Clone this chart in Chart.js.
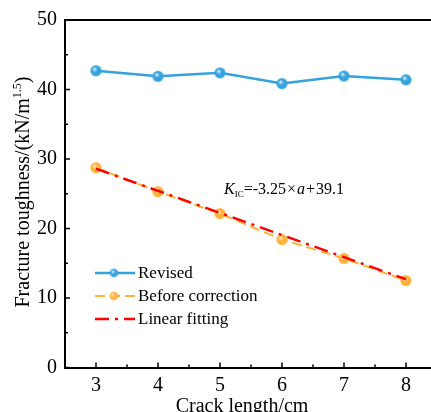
<!DOCTYPE html>
<html>
<head>
<meta charset="utf-8">
<script src="https://cdn.jsdelivr.net/npm/chart.js@4.4.1/dist/chart.umd.min.js"></script>
<style>
  html, body { margin: 0; padding: 0; background: #fff; overflow: hidden; }
  #wrap { position: absolute; left: 0; top: 0; width: 445px; height: 430px; }
</style>
</head>
<body>
<div id="wrap"><canvas id="chart" width="445" height="430"></canvas></div>
<script>
const crackLength = [3, 4, 5, 6, 7, 8];
const revised = [42.7, 41.9, 42.4, 40.85, 41.95, 41.4];
const beforeCorrection = [28.75, 25.3, 22.15, 18.4, 15.7, 12.5];
const fitX = [3, 8];
const fitY = [28.6, 12.7];
const xTicks = [3, 4, 5, 6, 7, 8];
const yTicks = [0, 10, 20, 30, 40, 50];
const seriesNames = ["Revised", "Before correction", "Linear fitting"];

const SERIF = "'Liberation Serif', 'DejaVu Serif', serif";
const BLUE = "#35a2de";
const ORANGE = "#ffb23a";
const RED = "#ff0000";

function sphere(color, light, r) {
  const c = document.createElement("canvas");
  c.width = c.height = Math.ceil(r * 2 + 2);
  const g = c.getContext("2d");
  const cx = c.width / 2;
  const grad = g.createRadialGradient(cx - r * 0.3, cx - r * 0.35, 0.3, cx, cx, r);
  grad.addColorStop(0, light);
  grad.addColorStop(0.45, color);
  grad.addColorStop(1, color);
  g.fillStyle = grad;
  g.beginPath();
  g.arc(cx, cx, r, 0, Math.PI * 2);
  g.fill();
  return c;
}

const blueDot = sphere(BLUE, "#e8f7ff", 5.5);
const orangeDot = sphere(ORANGE, "#fff3d0", 5.5);
const blueDotSmall = sphere(BLUE, "#e8f7ff", 4.2);
const orangeDotSmall = sphere(ORANGE, "#fff3d0", 4.2);
const legendDots = [blueDotSmall, orangeDotSmall, null];

const pts = (xs, ys) => xs.map((x, i) => ({ x, y: ys[i] }));

const decor = {
  id: "decor",
  afterDraw(chart) {
    const { ctx, chartArea: a, scales } = chart;
    const xs = scales.x, ys = scales.y;
    ctx.save();
    ctx.strokeStyle = "#000";
    ctx.lineWidth = 2;
    // top border
    ctx.beginPath();
    ctx.moveTo(a.left, a.top);
    ctx.lineTo(a.right + 10, a.top);
    ctx.stroke();
    // inward ticks
    ctx.lineWidth = 1.5;
    for (let v = 0; v <= 50; v += 5) {
      const y = ys.getPixelForValue(v);
      const len = v % 10 === 0 ? 5 : 3;
      ctx.beginPath();
      ctx.moveTo(a.left, y);
      ctx.lineTo(a.left + len, y);
      ctx.stroke();
    }
    for (let v = 3; v <= 8; v += 0.5) {
      const x = xs.getPixelForValue(v);
      const len = Number.isInteger(v) ? 5 : 3;
      ctx.beginPath();
      ctx.moveTo(x, a.bottom);
      ctx.lineTo(x, a.bottom - len);
      ctx.stroke();
    }

    // axis titles
    ctx.fillStyle = "#000";
    ctx.textBaseline = "alphabetic";
    ctx.font = "20px " + SERIF;
    ctx.textAlign = "center";
    ctx.fillText("Crack length/cm", 242, 412);

    ctx.save();
    ctx.translate(29, 192);
    ctx.rotate(-Math.PI / 2);
    const t1 = "Fracture toughness/(kN/m";
    const t2 = "1.5";
    const t3 = ")";
    ctx.font = "20px " + SERIF;
    const w1 = ctx.measureText(t1).width;
    const w3 = ctx.measureText(t3).width;
    ctx.font = "12px " + SERIF;
    const w2 = ctx.measureText(t2).width;
    const x0 = -(w1 + w2 + w3) / 2;
    ctx.textAlign = "left";
    ctx.font = "20px " + SERIF;
    ctx.fillText(t1, x0, 0);
    ctx.font = "12px " + SERIF;
    ctx.fillText(t2, x0 + w1, -8);
    ctx.font = "20px " + SERIF;
    ctx.fillText(t3, x0 + w1 + w2, 0);
    ctx.restore();

    // fit equation
    ctx.textAlign = "left";
    let x = 224;
    const base = 194;
    const part = (txt, font, dy, gap) => {
      ctx.font = font;
      ctx.fillText(txt, x, base + (dy || 0));
      x += ctx.measureText(txt).width + (gap || 0);
    };
    part("K", "italic 16px " + SERIF, 0, 0);
    part("IC", "9px " + SERIF, 3, 0);
    part("=-3.25", "16px " + SERIF, 0, 1);
    part("×", "16px " + SERIF, 0, 1);
    part("a", "italic 16px " + SERIF, 0, 1);
    part("+", "16px " + SERIF, 0, 1);
    part("39.1", "16px " + SERIF, 0, 0);

    // legend
    const rows = [273, 296, 319];
    chart.data.datasets.forEach((ds, i) => {
      const y = rows[i];
      ctx.save();
      ctx.strokeStyle = ds.borderColor;
      ctx.lineWidth = ds.borderWidth;
      ctx.setLineDash(ds.borderDash || []);
      ctx.beginPath();
      ctx.moveTo(95, y);
      ctx.lineTo(135, y);
      ctx.stroke();
      ctx.restore();
      const dot = legendDots[i];
      if (dot) ctx.drawImage(dot, 114 - dot.width / 2, y - dot.height / 2);
      ctx.font = "17px " + SERIF;
      ctx.fillStyle = "#000";
      ctx.textBaseline = "middle";
      ctx.fillText(seriesNames[i], 138, y + 1);
    });
    ctx.restore();
  }
};

new Chart(document.getElementById("chart"), {
  type: "line",
  data: {
    datasets: [
      {
        label: seriesNames[0],
        data: pts(crackLength, revised),
        borderColor: BLUE,
        borderWidth: 2.5,
        pointStyle: blueDot,
        pointRadius: 5.5,
        order: 0
      },
      {
        label: seriesNames[1],
        data: pts(crackLength, beforeCorrection),
        borderColor: ORANGE,
        borderWidth: 2,
        borderDash: [10, 5],
        pointStyle: orangeDot,
        pointRadius: 5.5,
        order: 2
      },
      {
        label: seriesNames[2],
        data: pts(fitX, fitY),
        borderColor: RED,
        borderWidth: 2.5,
        borderDash: [14, 6, 3, 6],
        pointRadius: 0,
        order: 1
      }
    ]
  },
  options: {
    responsive: false,
    animation: false,
    layout: { padding: { top: 19, right: 6, left: 0, bottom: 0 } },
    plugins: { legend: { display: false }, tooltip: { enabled: false } },
    scales: {
      x: {
        type: "linear",
        min: 2.5,
        max: 8.5,
        afterBuildTicks: (s) => { s.ticks = xTicks.map((v) => ({ value: v })); },
        afterFit: (s) => { s.height = 62.5; },
        grid: { display: false, drawTicks: false },
        border: { display: true, color: "#000", width: 2 },
        ticks: { color: "#000", font: { family: SERIF, size: 20 }, padding: 6, maxRotation: 0 }
      },
      y: {
        min: 0,
        max: 50,
        afterBuildTicks: (s) => { s.ticks = yTicks.map((v) => ({ value: v })); },
        afterFit: (s) => { s.width = 65; },
        grid: { display: false, drawTicks: false },
        border: { display: true, color: "#000", width: 2 },
        ticks: { color: "#000", font: { family: SERIF, size: 20 }, padding: 8 }
      }
    }
  },
  plugins: [decor]
});
</script>
</body>
</html>
